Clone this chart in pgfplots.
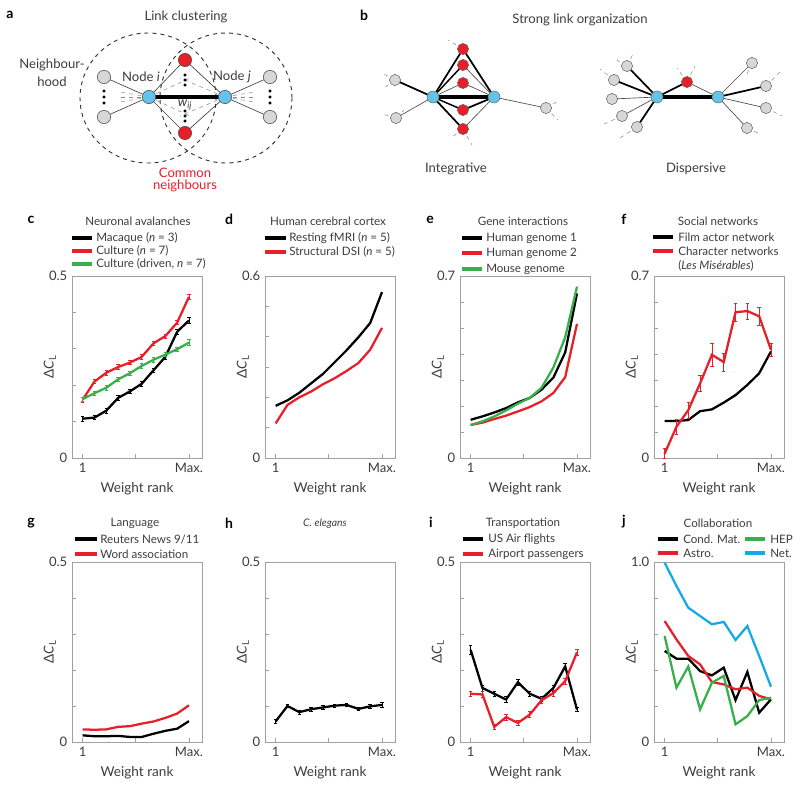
\documentclass[border=0pt]{standalone}
\usepackage{pgfplots}
\usepackage{pgfplotstable}
\pgfplotsset{compat=1.18}
\usepackage{fontspec}
\setmainfont{Lato}
\definecolor{cred}{RGB}{232,30,40}
\definecolor{cgreen}{RGB}{55,175,75}
\definecolor{cblue}{RGB}{20,170,230}
\definecolor{nblue}{RGB}{100,195,235}
\definecolor{ngray}{RGB}{215,215,215}
\definecolor{txt}{RGB}{60,60,60}
\definecolor{axgray}{RGB}{160,160,160}
\newcommand\lf{\fontsize{8.7}{10}\selectfont}
\newcommand\df{\fontsize{9.8}{11}\selectfont}
\pgfplotsset{
 panel/.style={scale only axis, width=97.5pt, anchor=north west,
  xmin=0.1, xmax=11.1, ymin=0,
  xtick={1,5.5,10}, xticklabels={1,,Max.},
  tick align=inside, tick pos=left,
  axis line style={axgray, line width=0.6pt},
  major tick style={axgray, line width=0.5pt}, major tick length=3pt,
  tick label style={font=\fontsize{9.8}{10}\selectfont, text=txt},
  xlabel={Weight rank}, ylabel={Δ\textit{C}\textsubscript{L}},
  label style={font=\fontsize{10.2}{11}\selectfont, text=txt},
  xlabel style={at={(axis description cs:0.5,0)}, anchor=center, yshift=-23pt},
  ylabel style={at={(axis description cs:-0.17,0.5)}, anchor=center},
  clip=false},
 eb/.style={error bars/.cd, y dir=both, y explicit, error bar style={line width=0.5pt},
  error mark options={rotate=90, mark size=1.3pt, line width=0.5pt}},
 dl/.style={line width=1.7pt},
}
\pgfplotstableread{
x b be r re g ge
1 0.108 0.006 0.160 0.006 0.162 0.006
2 0.111 0.006 0.210 0.006 0.178 0.006
3 0.130 0.006 0.234 0.006 0.193 0.006
4 0.165 0.006 0.250 0.006 0.216 0.006
5 0.183 0.006 0.262 0.006 0.233 0.006
6 0.204 0.006 0.278 0.006 0.253 0.006
7 0.241 0.006 0.315 0.006 0.270 0.006
8 0.278 0.006 0.335 0.006 0.284 0.006
9 0.347 0.006 0.372 0.006 0.299 0.006
10 0.378 0.008 0.443 0.008 0.317 0.008
}\datac
\pgfplotstableread{
x b r
1 0.172 0.114
2 0.190 0.175
3 0.215 0.200
4 0.246 0.219
5 0.277 0.243
6 0.316 0.263
7 0.355 0.287
8 0.398 0.313
9 0.445 0.357
10 0.547 0.429
}\datad
\pgfplotstableread{
x b r g
1 0.147 0.127 0.127
2 0.160 0.136 0.141
3 0.175 0.150 0.160
4 0.192 0.163 0.183
5 0.214 0.179 0.209
6 0.231 0.196 0.231
7 0.263 0.218 0.270
8 0.309 0.250 0.348
9 0.406 0.311 0.464
10 0.633 0.516 0.659
}\datae
\pgfplotstableread{
x b r re
1 0.142 0.017 0.020
2 0.142 0.120 0.030
3 0.146 0.184 0.030
4 0.180 0.287 0.030
5 0.187 0.397 0.045
6 0.213 0.369 0.035
7 0.242 0.561 0.035
8 0.281 0.565 0.030
9 0.326 0.545 0.035
10 0.410 0.416 0.025
}\dataf
\pgfplotstableread{
x b r
1 0.0185 0.035
2 0.016 0.034
3 0.016 0.035
4 0.017 0.042
5 0.014 0.044
6 0.014 0.051
7 0.023 0.057
8 0.031 0.067
9 0.037 0.079
10 0.058 0.102
}\datag
\pgfplotstableread{
x b be
1 0.057 0.006
2 0.100 0.005
3 0.083 0.005
4 0.091 0.005
5 0.096 0.005
6 0.101 0.005
7 0.103 0.005
8 0.092 0.005
9 0.099 0.005
10 0.103 0.006
}\datah
\pgfplotstableread{
x b be r re
1 0.256 0.012 0.134 0.008
2 0.150 0.008 0.132 0.008
3 0.134 0.008 0.042 0.008
4 0.118 0.008 0.069 0.008
5 0.166 0.008 0.053 0.008
6 0.134 0.008 0.076 0.008
7 0.120 0.008 0.116 0.008
8 0.150 0.008 0.136 0.008
9 0.210 0.008 0.169 0.008
10 0.090 0.006 0.249 0.008
}\datai
\pgfplotstableread{
x b r g c
1 0.506 0.672 0.589 0.996
2 0.463 0.570 0.302 0.867
3 0.463 0.478 0.419 0.746
4 0.394 0.431 0.181 0.700
5 0.370 0.333 0.330 0.654
6 0.413 0.320 0.367 0.667
7 0.233 0.293 0.098 0.567
8 0.389 0.302 0.144 0.644
9 0.163 0.256 0.233 0.478
10 0.237 0.237 0.246 0.307
}\dataj
\newcommand\legl[4]{\draw[#1, line width=2.6pt] (axis cs:#2,#4) -- (axis cs:#3,#4);}
\newcommand\legt[3]{\node[anchor=west, inner sep=0pt, text=txt, font=\lf] at (axis cs:#1,#2) {#3};}
\newcommand\ttl[3]{\node[anchor=center, inner sep=0pt, text=txt, font=\lf] at (axis cs:#1,#2) {#3};}
\newcommand\dtl[3]{\node[anchor=center, inner sep=0pt, text=txt, font=\df] at (axis cs:#1,#2) {#3};}
\newcommand\plet[3]{\node[anchor=center, inner sep=0pt, font=\fontsize{10.5}{11}\selectfont\bfseries] at (axis cs:#1,#2) {#3};}
\begin{document}
\begin{tikzpicture}
\useasboundingbox (0,0) rectangle (600pt,-591pt);
% ---------- overlay: diagrams, titles, legends ----------
\begin{axis}[at={(0,0)}, anchor=north west, scale only axis, width=600pt, height=591pt,
  xmin=0, xmax=800, ymin=0, ymax=788, y dir=reverse, hide axis, clip=false]
% panel a
\draw[dashed, line width=0.7pt, black!80] (axis cs:148,98) ellipse [x radius=51pt, y radius=48.75pt];
\draw[dashed, line width=0.7pt, black!80] (axis cs:226,98) ellipse [x radius=49.5pt, y radius=48.75pt];
\draw[dashed, black!45, line width=0.4pt] (axis cs:149,97) -- (axis cs:120,92);
\draw[dashed, black!45, line width=0.4pt] (axis cs:149,97) -- (axis cs:118,97);
\draw[dashed, black!45, line width=0.4pt] (axis cs:149,97) -- (axis cs:120,102);
\draw[dashed, black!45, line width=0.4pt] (axis cs:225,97) -- (axis cs:254,92);
\draw[dashed, black!45, line width=0.4pt] (axis cs:225,97) -- (axis cs:256,97);
\draw[dashed, black!45, line width=0.4pt] (axis cs:225,97) -- (axis cs:254,102);
\draw[dashed, black!45, line width=0.4pt] (axis cs:149,97) -- (axis cs:190,78);
\draw[dashed, black!45, line width=0.4pt] (axis cs:149,97) -- (axis cs:190,116);
\draw[dashed, black!45, line width=0.4pt] (axis cs:225,97) -- (axis cs:180,78);
\draw[dashed, black!45, line width=0.4pt] (axis cs:225,97) -- (axis cs:180,116);
\draw[black!75, line width=0.5pt] (axis cs:104,77) -- (axis cs:149,97) -- (axis cs:104,117);
\draw[black!75, line width=0.5pt] (axis cs:270,77) -- (axis cs:225,97) -- (axis cs:270,117);
\draw[black!75, line width=0.5pt] (axis cs:149,97) -- (axis cs:185,60) -- (axis cs:225,97) -- (axis cs:185,133) -- cycle;
\draw[black, line width=2.4pt] (axis cs:149,97) -- (axis cs:225,97);
\addplot[only marks, mark=*, mark size=1pt, black] coordinates {(104,91) (104,97) (104,103) (270,91) (270,97) (270,103) (185,75) (185,80) (185,85) (185,111) (185,116) (185,121)};
\addplot[only marks, mark=*, mark size=5pt, mark options={fill=ngray, draw=black!70, line width=0.4pt}] coordinates {(104,77) (104,117) (270,77) (270,117)};
\addplot[only marks, mark=*, mark size=5pt, mark options={fill=cred, draw=black!70, line width=0.4pt}] coordinates {(185,60) (185,133)};
\addplot[only marks, mark=*, mark size=5pt, mark options={fill=nblue, draw=black!70, line width=0.4pt}] coordinates {(149,97) (225,97)};
\plet{10}{15}{a}
\dtl{186}{17}{Link clustering}
\dtl{52}{65}{Neighbour-}
\dtl{52}{82}{hood}
\dtl{141}{77}{Node \textit{i}}
\dtl{232}{77}{Node \textit{j}}
\dtl{185}{105}{\textit{w}\textsubscript{\textit{ij}}}
\node[text=cred, font=\df, inner sep=0pt] at (axis cs:185,173) {Common};
\node[text=cred, font=\df, inner sep=0pt] at (axis cs:185,186) {neighbours};
% panel b - integrative
\draw[dashed, black!45, line width=0.4pt] (axis cs:395,80) -- (axis cs:382,73);
\draw[dashed, black!45, line width=0.4pt] (axis cs:395,80) -- (axis cs:384,88);
\draw[dashed, black!45, line width=0.4pt] (axis cs:396,118) -- (axis cs:382,114);
\draw[dashed, black!45, line width=0.4pt] (axis cs:396,118) -- (axis cs:404,110);
\draw[dashed, black!45, line width=0.4pt] (axis cs:546,108) -- (axis cs:560,100);
\draw[dashed, black!45, line width=0.4pt] (axis cs:546,108) -- (axis cs:558,120);
\draw[dashed, black!45, line width=0.4pt] (axis cs:463,49) -- (axis cs:448,40);
\draw[dashed, black!45, line width=0.4pt] (axis cs:463,129) -- (axis cs:452,137);
\draw[dashed, black!45, line width=0.4pt] (axis cs:463,129) -- (axis cs:472,145);
\draw[black, line width=1.3pt] (axis cs:433,97) -- (axis cs:395,80);
\draw[black!70, line width=0.5pt] (axis cs:433,97) -- (axis cs:396,118);
\draw[black!70, line width=0.5pt] (axis cs:494,97) -- (axis cs:546,108);
\draw[black, line width=1.3pt] (axis cs:433,97) -- (axis cs:463,49) -- (axis cs:494,97);
\draw[black, line width=1.1pt] (axis cs:433,97) -- (axis cs:463,65);
\draw[black!70, line width=0.5pt] (axis cs:494,97) -- (axis cs:463,65);
\draw[black!70, line width=0.5pt] (axis cs:433,97) -- (axis cs:463,83) -- (axis cs:494,97);
\draw[black, line width=1.1pt] (axis cs:433,97) -- (axis cs:463,110);
\draw[black, line width=1.3pt] (axis cs:494,97) -- (axis cs:463,110);
\draw[black, line width=1.3pt] (axis cs:433,97) -- (axis cs:463,129);
\draw[black!70, line width=0.5pt] (axis cs:494,97) -- (axis cs:463,129);
\draw[black, line width=2.8pt] (axis cs:433,97) -- (axis cs:494,97);
\addplot[only marks, mark=*, mark size=4.2pt, mark options={fill=ngray, draw=black!60, line width=0.4pt}] coordinates {(395,80) (396,118) (546,108)};
\addplot[only marks, mark=*, mark size=4.2pt, mark options={fill=cred, draw=black!60, line width=0.4pt}] coordinates {(463,49) (463,65) (463,83) (463,110) (463,129)};
\addplot[only marks, mark=*, mark size=4.5pt, mark options={fill=nblue, draw=black!60, line width=0.4pt}] coordinates {(433,97) (494,97)};
% panel b - dispersive
\draw[dashed, black!45, line width=0.4pt] (axis cs:627,66) -- (axis cs:613,58);
\draw[dashed, black!45, line width=0.4pt] (axis cs:627,66) -- (axis cs:634,52);
\draw[dashed, black!45, line width=0.4pt] (axis cs:614,80) -- (axis cs:600,69);
\draw[dashed, black!45, line width=0.4pt] (axis cs:622,116) -- (axis cs:604,124);
\draw[dashed, black!45, line width=0.4pt] (axis cs:637,127) -- (axis cs:620,138);
\draw[dashed, black!45, line width=0.4pt] (axis cs:687,82) -- (axis cs:677,68);
\draw[dashed, black!45, line width=0.4pt] (axis cs:687,82) -- (axis cs:695,66);
\draw[dashed, black!45, line width=0.4pt] (axis cs:752,63) -- (axis cs:746,76);
\draw[dashed, black!45, line width=0.4pt] (axis cs:766,86) -- (axis cs:780,72);
\draw[dashed, black!45, line width=0.4pt] (axis cs:766,108) -- (axis cs:782,116);
\draw[dashed, black!45, line width=0.4pt] (axis cs:747,128) -- (axis cs:760,134);
\draw[black, line width=1.3pt] (axis cs:657,97) -- (axis cs:627,66);
\draw[black, line width=1.3pt] (axis cs:657,97) -- (axis cs:614,80);
\draw[black!70, line width=0.5pt] (axis cs:657,97) -- (axis cs:612,99);
\draw[black!70, line width=0.5pt] (axis cs:657,97) -- (axis cs:622,116);
\draw[black, line width=1.3pt] (axis cs:657,97) -- (axis cs:637,127);
\draw[black, line width=1.3pt] (axis cs:657,97) -- (axis cs:687,82);
\draw[black!70, line width=0.5pt] (axis cs:718,97) -- (axis cs:687,82);
\draw[black!70, line width=0.5pt] (axis cs:718,97) -- (axis cs:752,63);
\draw[black, line width=1.3pt] (axis cs:718,97) -- (axis cs:766,86);
\draw[black!70, line width=0.5pt] (axis cs:718,97) -- (axis cs:766,108);
\draw[black!70, line width=0.5pt] (axis cs:718,97) -- (axis cs:747,128);
\draw[black, line width=2.8pt] (axis cs:657,97) -- (axis cs:718,97);
\addplot[only marks, mark=*, mark size=4.2pt, mark options={fill=ngray, draw=black!60, line width=0.4pt}] coordinates {(627,66) (614,80) (612,99) (622,116) (637,127) (752,63) (766,86) (766,108) (747,128)};
\addplot[only marks, mark=*, mark size=4.2pt, mark options={fill=cred, draw=black!60, line width=0.4pt}] coordinates {(687,82)};
\addplot[only marks, mark=*, mark size=4.5pt, mark options={fill=nblue, draw=black!60, line width=0.4pt}] coordinates {(657,97) (718,97)};
\plet{364}{15}{b}
\dtl{580}{20}{Strong link organization}
\dtl{456}{169}{Integrative}
\dtl{696}{169}{Dispersive}
% panel titles and legends
\plet{31}{220}{c} \ttl{138}{221}{Neuronal avalanches}
\legl{black}{72}{92}{238} \legt{96}{238}{Macaque (\textit{n} = 3)}
\legl{cred}{72}{92}{251} \legt{96}{251}{Culture (\textit{n} = 7)}
\legl{cgreen}{72}{92}{264} \legt{96}{264}{Culture (driven, \textit{n} = 7)}
\plet{229}{219}{d} \ttl{328}{221}{Human cerebral cortex}
\legl{black}{265}{286}{238} \legt{289}{238}{Resting fMRI (\textit{n} = 5)}
\legl{cred}{265}{286}{252} \legt{289}{252}{Structural DSI (\textit{n} = 5)}
\plet{430}{220}{e} \ttl{523}{221}{Gene interactions}
\legl{black}{462}{482}{238} \legt{486}{238}{Human genome 1}
\legl{cred}{462}{482}{253} \legt{486}{253}{Human genome 2}
\legl{cgreen}{462}{482}{269} \legt{486}{269}{Mouse genome}
\plet{624}{219}{f} \ttl{718}{221}{Social networks}
\legl{black}{653}{673}{237} \legt{678}{237}{Film actor network}
\legl{cred}{653}{673}{251} \legt{678}{251}{Character networks}
\legt{678}{266}{(\textit{Les Misérables})}
\plet{31}{523}{g} \ttl{135}{523}{Language}
\legl{black}{75}{97}{539} \legt{100}{539}{Reuters News 9/11}
\legl{cred}{75}{97}{554} \legt{100}{554}{Word association}
\plet{229}{523}{h}
\node[text=txt, font=\fontsize{7.8}{9}\selectfont\itshape, inner sep=0pt] at (axis cs:325,524) {C. elegans};
\plet{431}{522}{i} \ttl{523}{523}{Transportation}
\legl{black}{463}{483}{539} \legt{488}{539}{US Air flights}
\legl{cred}{463}{483}{554} \legt{488}{554}{Airport passengers}
\plet{624}{522}{j} \ttl{718}{523}{Collaboration}
\legl{black}{658}{678}{539} \legt{683}{539}{Cond. Mat.}
\legl{cred}{658}{678}{553} \legt{683}{553}{Astro.}
\legl{cgreen}{745}{765}{539} \legt{770}{539}{HEP}
\legl{cblue}{745}{765}{553} \legt{770}{553}{Net.}
\end{axis}
% ---------- row 1 ----------
\begin{axis}[panel, at={(54pt,-207pt)}, height=136.5pt, ymax=0.5,
  ytick={0,0.1,...,0.5}, yticklabels={0,,,,,0.5}]
\addplot[black, dl, eb] table[x=x, y=b, y error=be] {\datac};
\addplot[cred, dl, eb] table[x=x, y=r, y error=re] {\datac};
\addplot[cgreen, dl, eb] table[x=x, y=g, y error=ge] {\datac};
\end{axis}
\begin{axis}[panel, at={(198.75pt,-207pt)}, height=136.5pt, ymax=0.6,
  ytick={0,0.1,...,0.6}, yticklabels={0,,,,,,0.6}]
\addplot[black, dl] table[x=x, y=b] {\datad};
\addplot[cred, dl] table[x=x, y=r] {\datad};
\end{axis}
\begin{axis}[panel, at={(345pt,-207pt)}, height=136.5pt, ymax=0.7,
  ytick={0,0.1,...,0.7}, yticklabels={0,,,,,,,0.7}]
\addplot[black, dl] table[x=x, y=b] {\datae};
\addplot[cred, dl] table[x=x, y=r] {\datae};
\addplot[cgreen, dl] table[x=x, y=g] {\datae};
\end{axis}
\begin{axis}[panel, at={(490.5pt,-207pt)}, height=136.5pt, ymax=0.7,
  ytick={0,0.1,...,0.7}, yticklabels={0,,,,,,,0.7}]
\addplot[black, dl] table[x=x, y=b] {\dataf};
\addplot[cred, dl, eb] table[x=x, y=r, y error=re] {\dataf};
\end{axis}
% ---------- row 2 ----------
\begin{axis}[panel, at={(54pt,-421.5pt)}, height=135pt, ymax=0.5,
  ytick={0,0.1,...,0.5}, yticklabels={0,,,,,0.5}]
\addplot[black, dl] table[x=x, y=b] {\datag};
\addplot[cred, dl] table[x=x, y=r] {\datag};
\end{axis}
\begin{axis}[panel, at={(198.75pt,-421.5pt)}, height=135pt, ymax=0.5,
  ytick={0,0.1,...,0.5}, yticklabels={0,,,,,0.5}]
\addplot[black, dl, eb] table[x=x, y=b, y error=be] {\datah};
\end{axis}
\begin{axis}[panel, at={(345pt,-421.5pt)}, height=135pt, ymax=0.5,
  ytick={0,0.1,...,0.5}, yticklabels={0,,,,,0.5}]
\addplot[black, dl, eb] table[x=x, y=b, y error=be] {\datai};
\addplot[cred, dl, eb] table[x=x, y=r, y error=re] {\datai};
\end{axis}
\begin{axis}[panel, at={(490.5pt,-421.5pt)}, height=135pt, ymax=1.0,
  ytick={0,0.2,...,1.0}, yticklabels={0,,,,,1.0}]
\addplot[black, dl] table[x=x, y=b] {\dataj};
\addplot[cred, dl] table[x=x, y=r] {\dataj};
\addplot[cgreen, dl] table[x=x, y=g] {\dataj};
\addplot[cblue, dl] table[x=x, y=c] {\dataj};
\end{axis}
\end{tikzpicture}
\end{document}
